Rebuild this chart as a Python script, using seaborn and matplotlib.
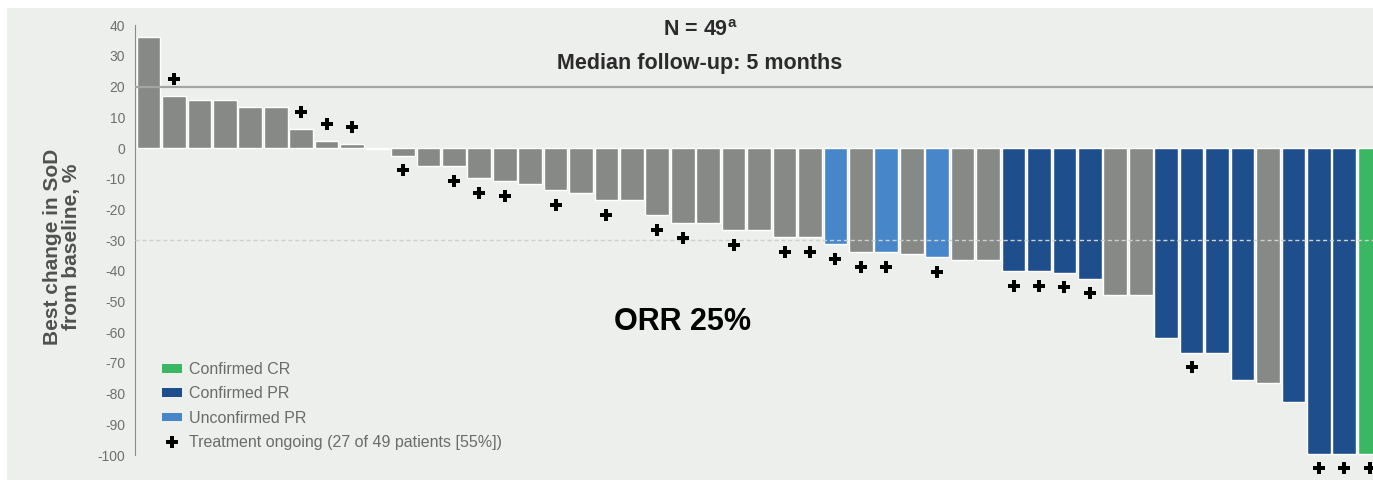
import numpy as np
import pandas as pd
import matplotlib.pyplot as plt
import seaborn as sns
from matplotlib.patches import Patch, Rectangle
from matplotlib.lines import Line2D

# Best change in sum of diameters per patient (%), sorted as in the waterfall
change = [36, 17, 15.5, 15.5, 13.3, 13.3, 6.1, 2.4, 1.4, -0.4,
          -2.5, -5.8, -5.8, -9.7, -10.7, -11.6, -13.7, -14.5, -16.9, -16.9,
          -21.8, -24.5, -24.5, -26.7, -26.7, -28.9, -28.9, -31.4, -33.8, -33.8,
          -34.6, -35.6, -36.5, -36.5, -40, -40, -40.6, -42.5, -47.7, -47.7,
          -61.8, -66.6, -66.6, -75.4, -76.5, -82.6, -99.5, -99.5, -99.5]

# response category for each patient (1-based positions)
unconfirmed_pr = [28, 30, 32]
confirmed_pr = [35, 36, 37, 38, 41, 42, 43, 44, 46, 47, 48]
confirmed_cr = [49]

# patients with treatment ongoing (marked with +)
ongoing = [2, 7, 8, 9, 11, 13, 14, 15, 17, 19, 21, 22, 24, 26, 27,
           28, 29, 30, 32, 35, 36, 37, 38, 42, 47, 48, 49]

def response_of(i):
    if i in confirmed_cr:
        return "Confirmed CR"
    elif i in confirmed_pr:
        return "Confirmed PR"
    elif i in unconfirmed_pr:
        return "Unconfirmed PR"
    else:
        return "Other"

df = pd.DataFrame({
    'patient': [str(i) for i in range(1, len(change) + 1)],
    'change': change,
})
df['response'] = [response_of(i) for i in range(1, len(change) + 1)]

palette = {
    "Other": "#878987",
    "Confirmed PR": "#1e4f8c",
    "Unconfirmed PR": "#4787c9",
    "Confirmed CR": "#3ab763",
}

sns.set_style("white")
plt.rcParams['font.family'] = ['Liberation Sans', 'DejaVu Sans']
plt.rcParams['axes.unicode_minus'] = False

bg = "#edefec"
fig = plt.figure(figsize=(13.73, 4.8), dpi=100)
fig.patch.set_facecolor("white")
fig.add_artist(Rectangle((7 / 1373, 0), 1, 1 - 8 / 480, transform=fig.transFigure,
                         facecolor=bg, edgecolor="none", zorder=-10))

ax = fig.add_axes([135 / 1373, 0, 1238 / 1373, 470 / 480])
ax.set_facecolor("none")

sns.barplot(data=df, x='patient', y='change', hue='response', palette=palette,
            dodge=False, width=0.93, saturation=1, legend=False, ax=ax, zorder=2)

# reference lines
ax.axhline(20, color="#a2a5a2", lw=1.6, zorder=3)
ax.axhline(-30, color="#cdd0cd", lw=1.0, ls=(0, (3, 2)), zorder=3)

# treatment ongoing markers
pos = np.array(ongoing) - 1
vals = np.array(change)[pos]
ymark = np.where(vals > 0, vals + 5.5, vals - 4.8)
ax.scatter(pos, ymark, marker='P', s=70, color='black', linewidths=0, zorder=4)

ax.set_xlim(-0.53, 48.13)
ax.set_ylim(-108.1, 44.95)
ax.set_yticks(np.arange(-100, 41, 10))
ax.tick_params(axis='y', direction='out', length=4, width=0.8, colors="#8a8c8a",
               labelcolor="#6e706e", labelsize=10, pad=3)
ax.set_xticks([])
ax.set_xlabel("")
ax.set_ylabel("")
for side in ['top', 'right', 'bottom']:
    ax.spines[side].set_visible(False)
ax.spines['left'].set_color("#8a8c8a")
ax.spines['left'].set_linewidth(0.8)
ax.spines['left'].set_bounds(-100, 40)

fig.text(62 / 1373, 1 - 247 / 480, "Best change in SoD\nfrom baseline, %", rotation=90,
         ha='center', va='center', fontsize=15, fontweight='bold', color="#505250",
         linespacing=0.95)

fig.text(700 / 1373, 1 - 31 / 480, "N = 49$^{\\mathregular{a}}$", ha='center', va='center',
         fontsize=15.5, fontweight='bold', color="#2b2b2b")
fig.text(700 / 1373, 1 - 63 / 480, "Median follow-up: 5 months", ha='center', va='center',
         fontsize=15.5, fontweight='bold', color="#2b2b2b")
fig.text(683 / 1373, 1 - 322 / 480, "ORR 25%", ha='center', va='center',
         fontsize=22, fontweight='bold', color="black")

handles = [
    Patch(facecolor=palette["Confirmed CR"], edgecolor='none', label="Confirmed CR"),
    Patch(facecolor=palette["Confirmed PR"], edgecolor='none', label="Confirmed PR"),
    Patch(facecolor=palette["Unconfirmed PR"], edgecolor='none', label="Unconfirmed PR"),
    Line2D([], [], marker='P', color='black', linestyle='none', markersize=9,
           markeredgewidth=0, label="Treatment ongoing (27 of 49 patients [55%])"),
]
leg = fig.legend(handles=handles, loc='upper left', bbox_to_anchor=(162 / 1373, 1 - 362 / 480),
                 frameon=False, fontsize=11.5, handlelength=1.25, handleheight=0.45,
                 handletextpad=0.45, labelspacing=0.58, borderpad=0, borderaxespad=0)
for t in leg.get_texts():
    t.set_color("#6a6c6a")

fig.savefig("out.png", dpi=100, facecolor=fig.get_facecolor())
